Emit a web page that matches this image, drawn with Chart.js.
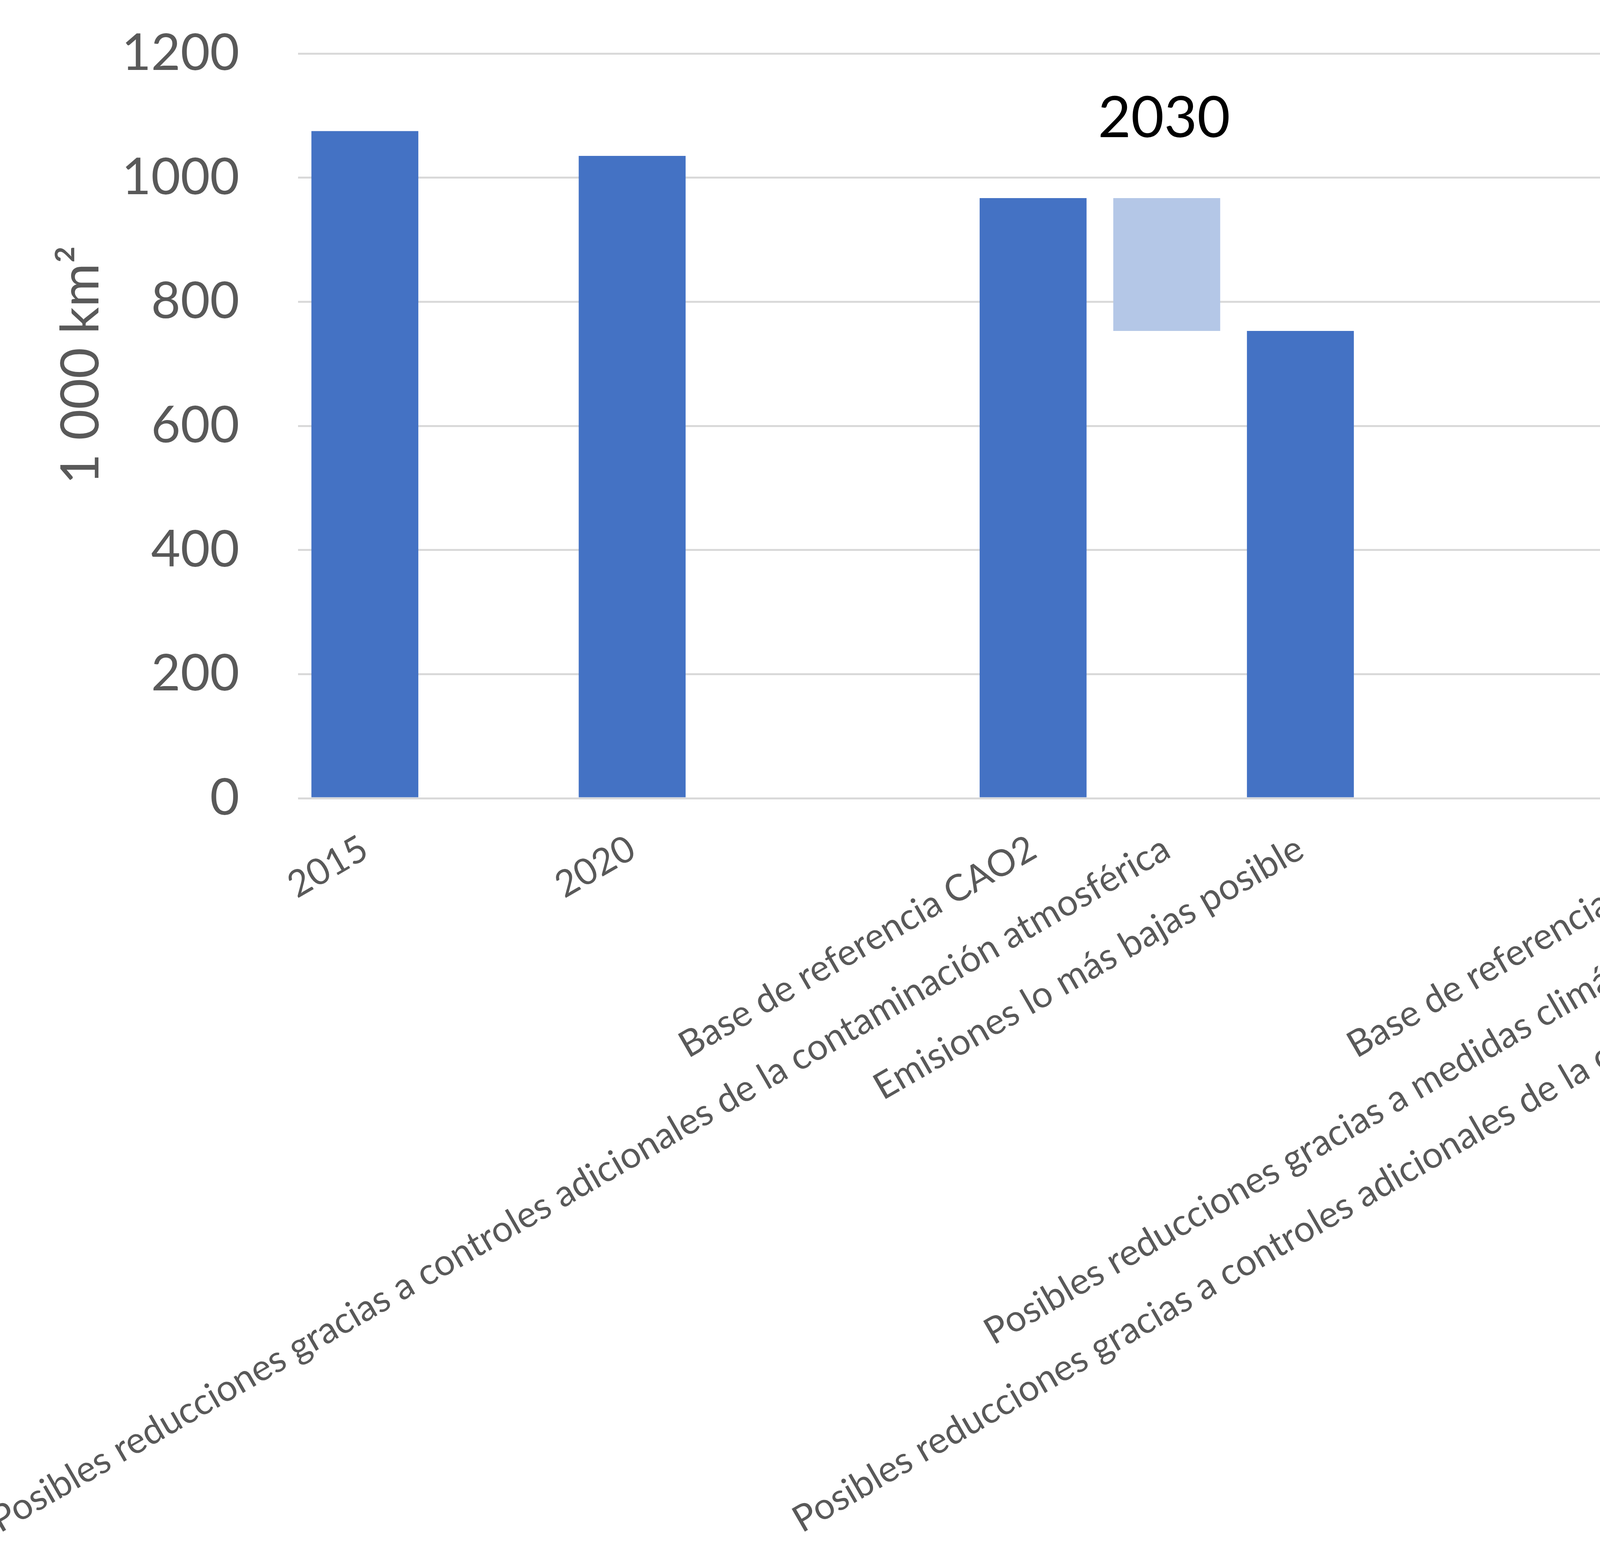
<!DOCTYPE html>
<html>
<head>
<meta charset="utf-8">
<script src="https://cdn.jsdelivr.net/npm/chart.js@4"></script>
<style>
  html, body { margin: 0; padding: 0; background: #fff; }
  #wrap { width: 6103px; height: 3985px; }
</style>
</head>
<body>
<div id="wrap"><canvas id="chart"></canvas></div>
<script>
// categories (empty strings are the gaps between groups)
const labels = [
  "2015", "", "2020", "", "",
  "Base de referencia CAO2",
  "Posibles reducciones gracias a controles adicionales de la contaminación atmosférica",
  "Emisiones lo más bajas posible",
  "", "",
  "Base de referencia CAO2",
  "Posibles reducciones gracias a medidas climáticas adicionales",
  "Posibles reducciones gracias a controles adicionales de la contaminación atmosférica",
  "Potencial conjunto",
  "Emisiones lo más bajas posible"
];
// bar bottoms and tops (1 000 km2)
const barLow  = [0, null, 0, null, null, 0, 753, 0, null, null, 0, 744, 707, 579, 0];
const barHigh = [1075, null, 1035, null, null, 967, 967, 753, null, null, 928, 928, 928, 928, 579];
const barColors = ["#4472c4", null, "#4472c4", null, null, "#4472c4", "#b4c7e7", "#4472c4", null, null,
                   "#4472c4", "#ffc000", "#b4c7e7", "#a9d18e", "#4472c4"];
const yTicks = [0, 200, 400, 600, 800, 1000, 1200];
const groupTitles = [{ text: "2030", x: 5.98, y: 1095 }, { text: "2050", x: 11.83, y: 1095 }];
const yTitle = { text: "1 000 km²", y: 698 };

const data = barLow.map((lo, i) => (lo === null ? null : [lo, barHigh[i]]));

const textPlugin = {
  id: "extraText",
  afterDatasetsDraw(chart) {
    const { ctx, scales } = chart;
    ctx.save();
    ctx.textAlign = "center";
    ctx.textBaseline = "middle";
    // group headings
    ctx.fillStyle = "#000";
    ctx.font = "146px Lato";
    groupTitles.forEach(g => {
      ctx.fillText(g.text, scales.x.getPixelForValue(g.x), scales.y.getPixelForValue(g.y));
    });
    // y axis title (sits above the middle of the axis, as in the original)
    ctx.fillStyle = "#595959";
    ctx.font = "136px Lato";
    ctx.translate(scales.y.left + 208, scales.y.getPixelForValue(yTitle.y));
    ctx.rotate(-Math.PI / 2);
    ctx.fillText(yTitle.text, 0, 0);
    ctx.restore();
  }
};

new Chart(document.getElementById("chart"), {
  type: "bar",
  data: {
    labels: labels,
    datasets: [{
      data: data,
      backgroundColor: barColors,
      categoryPercentage: 0.8,
      barPercentage: 1,
      borderSkipped: false
    }]
  },
  plugins: [textPlugin],
  options: {
    responsive: true,
    maintainAspectRatio: false,
    animation: false,
    devicePixelRatio: 1,
    layout: { padding: { top: 137, right: 208, bottom: 36, left: 0 } },
    plugins: { legend: { display: false }, tooltip: { enabled: false } },
    scales: {
      x: {
        grid: { display: false },
        border: { display: false },
        ticks: {
          autoSkip: false, minRotation: 30, maxRotation: 30,
          color: "#595959", font: { family: "Lato", size: 94 }, padding: 65
        }
      },
      y: {
        min: 0, max: 1200,
        afterFit(scale) { scale.width = 763; },
        afterBuildTicks(scale) { scale.ticks = yTicks.map(v => ({ value: v })); },
        grid: { color: "#d9d9d9", lineWidth: 5, drawTicks: true, tickLength: 150, tickColor: "rgba(0,0,0,0)" },
        border: { display: false },
        ticks: {
          color: "#595959", font: { family: "Lato", size: 130 }, padding: 0,
          callback: v => String(v)
        }
      }
    }
  }
});
</script>
</body>
</html>
